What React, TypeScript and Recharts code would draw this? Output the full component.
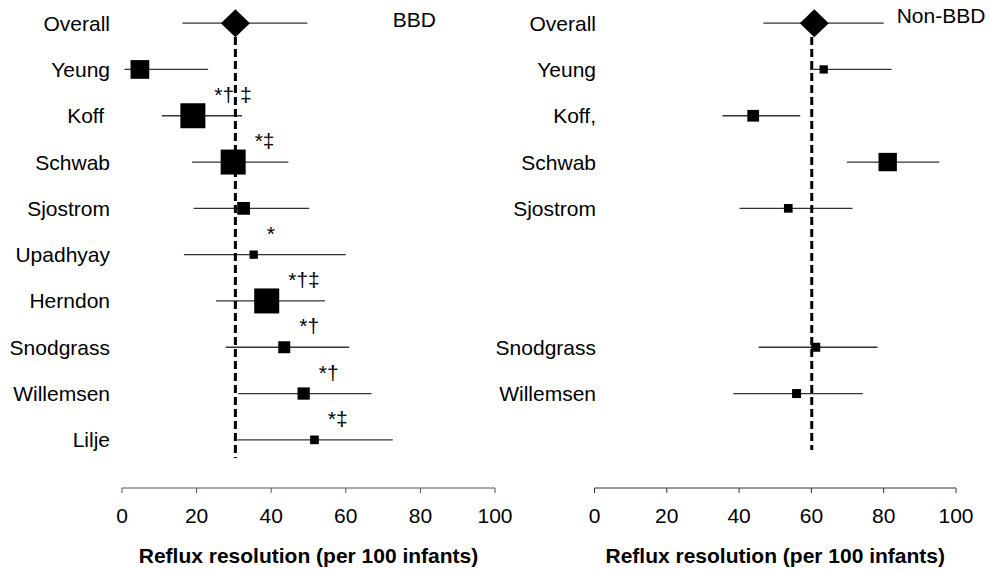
import React from 'react';
import { ScatterChart, Scatter, XAxis, YAxis, ZAxis, ReferenceLine } from 'recharts';

const FONT = '"Liberation Sans", Arial, Helvetica, sans-serif';

// ---------- BBD panel ----------
const bbdRowLabels = ['Overall', 'Yeung', 'Koff\u00a0', 'Schwab', 'Sjostrom', 'Upadhyay', 'Herndon', 'Snodgrass', 'Willemsen', 'Lilje'];
const bbdRows = [1, 2, 3, 4, 5, 6, 7, 8, 9];
const bbdEstimate = [4.8, 19.0, 29.8, 32.6, 35.3, 38.8, 43.5, 48.7, 51.6];
const bbdLower = [0.7, 10.7, 18.8, 19.2, 16.6, 25.2, 27.8, 31.2, 30.9];
const bbdUpper = [23.1, 32.2, 44.6, 50.2, 60.0, 54.4, 60.9, 66.9, 72.6];
const bbdWeight = [56, 100, 100, 26, 11, 100, 23, 24, 12];
const bbdMarks = ['', '*† ‡', '*‡', '', '*', '*†‡', '*†', '*†', '*‡'];
const bbdOverallEstimate = 30.4;
const bbdOverallLower = 16.2;
const bbdOverallUpper = 49.7;
const bbdReference = 30.4;

// ---------- Non-BBD panel ----------
const nonRowLabels = ['Overall', 'Yeung', 'Koff,', 'Schwab', 'Sjostrom', 'Snodgrass', 'Willemsen'];
const nonLabelRows = [0, 1, 2, 3, 4, 7, 8];
const nonRows = [1, 2, 3, 4, 7, 8];
const nonEstimate = [63.4, 43.9, 81.1, 53.6, 61.2, 55.9];
const nonLower = [59.6, 35.4, 69.8, 40.1, 45.4, 38.4];
const nonUpper = [82.2, 56.9, 95.4, 71.4, 78.3, 74.2];
const nonWeight = [11, 22, 54, 12, 13, 13];
const nonMarks = ['', '', '', '', '', ''];
const nonOverallEstimate = 60.8;
const nonOverallLower = 46.7;
const nonOverallUpper = 80.0;
const nonReference = 60.1;

const xTicks = [0, 20, 40, 60, 80, 100];
const xTitle = 'Reflux resolution (per 100 infants)';

const StudySquare = (props: any) => {
  const { cx, cy, payload } = props;
  let size = props.size;
  if (size == null || isNaN(size)) {
    const r = (props.width || 0) / 2;
    size = Math.PI * r * r;
  }
  const side = Math.sqrt(size);
  return (
    <g>
      <rect x={cx - side / 2} y={cy - side / 2} width={side} height={side} fill="#000" />
      {payload && payload.mark ? (
        <text x={cx + side / 2 + 9} y={cy - 14} fontSize={21} fontFamily={FONT} fill="#000">
          {payload.mark}
        </text>
      ) : null}
    </g>
  );
};

const Diamond = (props: any) => {
  const { cx, cy } = props;
  const hw = 14.5;
  const hh = 14;
  return <polygon points={`${cx},${cy - hh} ${cx + hw},${cy} ${cx},${cy + hh} ${cx - hw},${cy}`} fill="#000" />;
};

type PanelProps = {
  left: number;
  width: number;
  marginRight: number;
  yWidth: number;
  yTickMargin: number;
  labels: string[];
  labelRows: number[];
  rows: number[];
  est: number[];
  lo: number[];
  hi: number[];
  weight: number[];
  marks: string[];
  oEst: number;
  oLo: number;
  oHi: number;
  ref: number;
  refBottom: number;
  axisColor: string;
};

const Panel = (p: PanelProps) => {
  const data = p.rows.map((r, i) => ({ x: p.est[i], y: r, z: p.weight[i], mark: p.marks[i] }));
  const overall = [{ x: p.oEst, y: 0, z: 100 }];
  return (
    <div style={{ position: 'absolute', left: p.left, top: 0 }}>
      <ScatterChart width={p.width} height={570} margin={{ top: 0, right: p.marginRight, bottom: 0, left: 0 }}>
        <XAxis
          type="number"
          dataKey="x"
          domain={[0, 100]}
          ticks={xTicks}
          interval={0}
          allowDataOverflow
          tickSize={5}
          tickMargin={15}
          height={82}
          stroke={p.axisColor}
          tick={{ fontSize: 21, fill: '#000', fontFamily: FONT }}
          label={{ value: xTitle, position: 'insideBottom', offset: 7, fontSize: 21, fontWeight: 'bold', fill: '#000', fontFamily: FONT }}
        />
        <YAxis
          type="number"
          dataKey="y"
          domain={[-0.5, 10.04]}
          allowDataOverflow
          reversed
          ticks={p.labelRows}
          interval={0}
          tickFormatter={(v: number) => {
            const idx = p.labelRows.indexOf(v);
            return idx >= 0 ? p.labels[idx] : '';
          }}
          axisLine={false}
          tickLine={false}
          tickSize={0}
          tickMargin={p.yTickMargin}
          width={p.yWidth}
          tick={{ fontSize: 21, fill: '#000', fontFamily: FONT }}
        />
        <ZAxis type="number" dataKey="z" domain={[0, 100]} range={[0, 625]} />
        <ReferenceLine
          segment={[{ x: p.oLo, y: 0 }, { x: p.oHi, y: 0 }]}
          stroke="#333"
          strokeWidth={1.3}
        />
        {p.rows.map((r, i) => (
          <ReferenceLine
            key={`ci-${i}`}
            segment={[{ x: p.lo[i], y: r }, { x: p.hi[i], y: r }]}
            stroke="#333"
            strokeWidth={1.3}
          />
        ))}
        <ReferenceLine
          segment={[{ x: p.ref, y: 0.3 }, { x: p.ref, y: p.refBottom }]}
          stroke="#000"
          strokeWidth={3}
          strokeDasharray="8 4"
        />
        <Scatter data={overall} shape={<Diamond />} isAnimationActive={false} />
        <Scatter data={data} shape={<StudySquare />} isAnimationActive={false} />
      </ScatterChart>
    </div>
  );
};

export default function App() {
  return (
    <div style={{ position: 'absolute', left: 0, top: 0, width: 990, height: 570, background: '#fff', overflow: 'hidden' }}>
      <Panel
        left={0}
        width={520}
        marginRight={25}
        yWidth={122}
        yTickMargin={12}
        labels={bbdRowLabels}
        labelRows={[0, 1, 2, 3, 4, 5, 6, 7, 8, 9]}
        rows={bbdRows}
        est={bbdEstimate}
        lo={bbdLower}
        hi={bbdUpper}
        weight={bbdWeight}
        marks={bbdMarks}
        oEst={bbdOverallEstimate}
        oLo={bbdOverallLower}
        oHi={bbdOverallUpper}
        ref={bbdReference}
        refBottom={9.39}
        axisColor="#555"
      />
      <Panel
        left={470}
        width={520}
        marginRight={34}
        yWidth={124.5}
        yTickMargin={-1.5}
        labels={nonRowLabels}
        labelRows={nonLabelRows}
        rows={nonRows}
        est={nonEstimate}
        lo={nonLower}
        hi={nonUpper}
        weight={nonWeight}
        marks={nonMarks}
        oEst={nonOverallEstimate}
        oLo={nonOverallLower}
        oHi={nonOverallUpper}
        ref={nonReference}
        refBottom={9.22}
        axisColor="#333"
      />
      <svg width={990} height={570} style={{ position: 'absolute', left: 0, top: 0, pointerEvents: 'none' }}>
        <text x={392.7} y={27.3} fontSize={21} fontFamily={FONT} fill="#000">BBD</text>
        <text x={896.7} y={22.7} fontSize={21} fontFamily={FONT} fill="#000">Non-BBD</text>
      </svg>
    </div>
  );
}
